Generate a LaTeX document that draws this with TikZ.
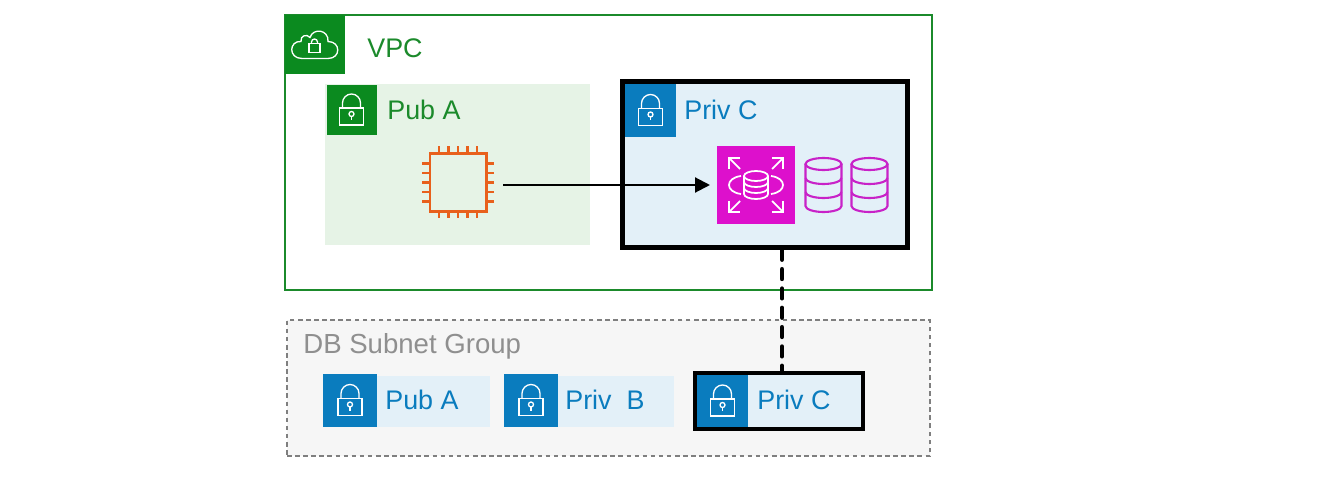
\documentclass[tikz,border=0pt]{standalone}
\usepackage{fontspec}
\setmainfont{Liberation Sans}
\usepackage{xcolor}
\usetikzlibrary{arrows.meta,positioning,calc}
\definecolor{vpcgreen}{HTML}{1B8A2B}
\definecolor{tilegreen}{HTML}{0B8A1F}
\definecolor{pubfill}{HTML}{E6F3E6}
\definecolor{subblue}{HTML}{0A7CBE}
\definecolor{privfill}{HTML}{E3F0F8}
\definecolor{rdspink}{HTML}{DD10CC}
\definecolor{dbline}{HTML}{C822C8}
\definecolor{chiporange}{HTML}{E8601C}
\definecolor{grouptext}{HTML}{8F8F8F}
\definecolor{groupfill}{HTML}{F6F6F6}
\definecolor{groupline}{HTML}{7F7F7F}
\newcommand{\labelsize}{\fontsize{15.3}{18}\selectfont}
\tikzset{
  >={Triangle[length=8.5pt,width=8.5pt]},
  tile/.style    ={rectangle, inner sep=0pt, outer sep=0pt},
  vpcbox/.style  ={tile, draw=vpcgreen, line width=1.4pt},
  pubbox/.style  ={tile, fill=pubfill},
  privbox/.style ={tile, fill=privfill},
  selbox/.style  ={tile, fill=privfill, draw=black, line width=2.8pt, outer sep=1.4pt},
  groupbox/.style={tile, fill=groupfill, draw=groupline, line width=0.9pt,
                   dash pattern=on 2.6pt off 2pt},
  lbl/.style     ={font=\labelsize, inner sep=0pt, anchor=west},
  con/.style     ={->, draw, line width=1.2pt},
  lnk/.style     ={draw, line width=2.6pt, line cap=round, dash pattern=on 5.5pt off 5.5pt},
  ico/.style     ={draw=white, line width=0.75pt},
  lock/.pic={
    \draw[ico] (-12,-2) rectangle (12,15);
    \draw[ico] (-9,-2) -- (-9,-7) arc[start angle=180,end angle=360,radius=9] -- (9,-2);
    \draw[ico] (0,4) circle (2.5);
    \draw[ico] (0,6.5) -- (0,10);
  },
  cloudlock/.pic={
    \draw[ico] (-13,14) .. controls (-27,14) and (-26,-4) .. (-14,-3)
      .. controls (-15,-9) and (-8,-11) .. (-5,-7)
      .. controls (-2,-17) and (14,-15) .. (13,-3)
      .. controls (26,-3) and (26,14) .. (13,14) -- cycle;
    \draw[ico] (-6,-1) rectangle (5,8);
    \draw[ico] (-3.5,-1) -- (-3.5,-2.5) arc[start angle=180,end angle=360,radius=3] -- (2.5,-1);
  },
  chip/.pic={
    \draw[draw=chiporange, line width=1.7pt] (-28,-29) rectangle (28,29);
    \foreach \p in {-19,-9.5,0,9.5,19}{
      \draw[draw=chiporange, line width=1.6pt] (\p,-29) -- (\p,-36);
      \draw[draw=chiporange, line width=1.6pt] (\p,29) -- (\p,36);
      \draw[draw=chiporange, line width=1.6pt] (-28,\p) -- (-36,\p);
      \draw[draw=chiporange, line width=1.6pt] (28,\p) -- (36,\p);
    }
  },
  rdsmark/.pic={
    \draw[ico,line width=1pt] (-12,-9) -- (-12,9) arc[start angle=180,end angle=0,x radius=12,y radius=5] -- (12,-9);
    \draw[ico,line width=1pt] (0,-9) ellipse (12 and 5);
    \draw[ico,line width=1pt] (-12,-3) arc[start angle=180,end angle=0,x radius=12,y radius=5];
    \draw[ico,line width=1pt] (-12,3) arc[start angle=180,end angle=0,x radius=12,y radius=5];
    \draw[ico,line width=1pt] (-15,-9) .. controls (-31,-7) and (-31,7) .. (-15,9);
    \draw[ico,line width=1pt] (15,-9) .. controls (31,-7) and (31,7) .. (15,9);
    \foreach \sx/\sy in {-1/-1,1/-1,-1/1,1/1}{
      \draw[ico,line width=1pt] (\sx*16,\sy*16) -- (\sx*27,\sy*27);
      \draw[ico,line width=1pt] (\sx*27,\sy*16) -- (\sx*27,\sy*27) -- (\sx*16,\sy*27);
    }
  },
  dbcyl/.pic={
    \draw[draw=dbline, line width=1.2pt] (-18,-21) -- (-18,21) arc[start angle=180,end angle=0,x radius=18,y radius=6] -- (18,-21);
    \draw[draw=dbline, line width=1.2pt] (0,-21) ellipse (18 and 6);
    \draw[draw=dbline, line width=1.2pt] (-18,-7) arc[start angle=180,end angle=0,x radius=18,y radius=6];
    \draw[draw=dbline, line width=1.2pt] (-18,7) arc[start angle=180,end angle=0,x radius=18,y radius=6];
  },
}
\begin{document}
\begin{tikzpicture}[x=0.02cm,y=-0.02cm]
\useasboundingbox (0,0) rectangle (1328,486);
\node[vpcbox, minimum width=12.94cm, minimum height=5.5cm] (vpc) at (608.5,152.5) {};
\node[tile, fill=tilegreen, minimum size=1.2cm] (vpctile) at (315,44.5) {};
\pic at (vpctile.center) {cloudlock};
\node[lbl, text=vpcgreen] (vpclbl) at (367,48) {VPC};
\node[pubbox, minimum width=5.3cm, minimum height=3.22cm] (puba) at (457.5,164.5) {};
\node[tile, fill=tilegreen, minimum size=1cm] (pubatile) at (351.5,110) {};
\pic at (pubatile.center) {lock};
\node[lbl, text=vpcgreen] (pubalbl) at (387,110) {Pub A};
\node[tile, minimum width=1.52cm, minimum height=1.44cm] (ec2) at (458,182.5) {};
\pic at (ec2.center) {chip};
\node[selbox, minimum width=5.7cm, minimum height=3.32cm] (privc) at (765,164.5) {};
\node[tile, fill=subblue, minimum width=1.02cm, minimum height=1.06cm] (privctile) at (650.5,110.5) {};
\pic at (privctile.center) {lock};
\node[lbl, text=subblue] (privclbl) at (684,110) {Priv C};
\node[tile, fill=rdspink, minimum size=1.56cm] (rds) at (756,185) {};
\pic at (rds.center) {rdsmark};
\node[tile, minimum width=0.74cm, minimum height=1.08cm] (dba) at (823.5,185) {};
\pic at (dba.center) {dbcyl};
\node[tile, minimum width=0.74cm, minimum height=1.08cm] (dbb) at (869.5,185) {};
\pic at (dbb.center) {dbcyl};
\node[groupbox, minimum width=12.86cm, minimum height=2.72cm] (group) at (608.5,388) {};
\node[lbl, text=grouptext, font=\fontsize{15.7}{18}\selectfont] (grouplbl) at (303,346) {DB Subnet Group};
\node[privbox, minimum width=3.34cm, minimum height=1.02cm] (gpuba) at (406.5,401.5) {};
\node[tile, fill=subblue, minimum width=1.08cm, minimum height=1.06cm] (gpubatile) at (350,400.5) {};
\pic at (gpubatile.center) {lock};
\node[lbl, text=subblue] (gpubalbl) at (385,400) {Pub A};
\node[privbox, minimum width=3.4cm, minimum height=1.02cm] (gprivb) at (589,401.5) {};
\node[tile, fill=subblue, minimum width=1.08cm, minimum height=1.06cm] (gprivbtile) at (531,400.5) {};
\pic at (gprivbtile.center) {lock};
\node[lbl, text=subblue] (gprivblbl) at (565,400) {Priv\ \ B};
\node[selbox, minimum width=3.36cm, minimum height=1.12cm] (gprivc) at (779,401) {};
\node[tile, fill=subblue, minimum width=1.02cm, minimum height=1.04cm] (gprivctile) at (722.5,401) {};
\pic at (gprivctile.center) {lock};
\node[lbl, text=subblue] (gprivclbl) at (757,400) {Priv C};
\coordinate (lnkx) at (782,300);
\draw[con, shorten <=4pt, shorten >=4pt] (ec2.east |- rds.west) -- (rds.west);
\draw[lnk] (lnkx |- privc.south) -- (lnkx |- gprivc.north);
\end{tikzpicture}
\end{document}
